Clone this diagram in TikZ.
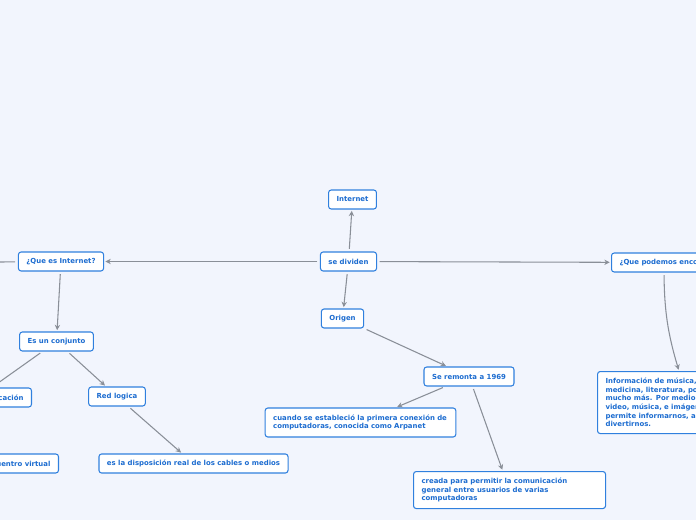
\documentclass[tikz,border=0pt]{standalone}
\usepackage{fontspec}
\setmainfont{DejaVu Sans}
\usetikzlibrary{arrows.meta, calc}
\definecolor{bgblue}{RGB}{242,245,253}
\definecolor{boxline}{RGB}{48,128,222}
\definecolor{boxtext}{RGB}{28,108,208}
\definecolor{linkgray}{RGB}{138,143,152}

\begin{document}
\begin{tikzpicture}[x=0.75pt, y=-0.75pt, >={Stealth[length=4pt,width=4pt]},
    topic/.style={draw=boxline, line width=0.8pt, rounded corners=2pt, fill=white, text=boxtext,
        font=\fontsize{5.2}{6.5}\selectfont\bfseries, minimum height=14.25pt, inner xsep=6pt, inner ysep=2.5pt, align=left},
    link/.style={draw=linkgray, line width=0.8pt, ->, shorten <=2pt, shorten >=1pt}]
    \useasboundingbox (0,0) rectangle (696,520);
    \fill[bgblue] (0,0) rectangle (696,520);
    \clip (0,0) rectangle (696,520);
    \node[topic] (inet) at (352.5,199.5) {Internet};
    \node[topic] (div) at (348.5,261.5) {se dividen};
    \node[topic] (orig) at (342.5,318.5) {Origen};
    \node[topic] (que) at (61,261.5) {¿Que es Internet?};
    \node[topic] (conj) at (56.5,341.5) {Es un conjunto};
    \node[topic, anchor=east] (com) at (32,397.5) {Medio de comunicación};
    \node[topic, anchor=east] (virt) at (59,463.5) {Punto de encuentro virtual};
    \node[topic] (red) at (117,396.5) {Red logica};
    \node[topic] (disp) at (193.5,463.5) {es la disposición real de los cables o medios};
    \node[topic] (remo) at (469,376.5) {Se remonta a 1969};
    \node[topic, text width=131pt, minimum height=21.75pt] (arpa) at (360.5,422.5) {cuando se estableció la primera conexión de\\computadoras, conocida como Arpanet};
    \node[topic, anchor=north west, text width=132pt, minimum height=27.75pt] (crea) at (413,471) {creada para permitir la comunicación\\general entre usuarios de varias\\computadoras};
    \node[topic, anchor=west] (qp) at (611,262.5) {¿Que podemos encontrar?};
    \node[topic, anchor=north west, text width=120pt, minimum height=46.5pt] (info) at (597,371) {Información de música, arte,\\medicina, literatura, política y\\mucho más. Por medio de\\video, música, e imágenes nos\\permite informarnos, aprender y\\divertirnos.};
    \coordinate (prev) at (-60,262.5);
    % conexiones
    \draw[link] (div) -- (inet);
    \draw[link] (div) -- (que);
    \draw[link] (div) -- (qp);
    \draw[link] (div) -- (orig);
    \draw[link] (que) -- (prev);
    \draw[link] (que) -- (conj);
    \draw[link] (conj) -- (com);
    \draw[link] (conj) -- (red);
    \draw[link] (red) -- (disp);
    \draw[link] (orig) -- (remo);
    \draw[link] (remo) -- (arpa);
    \draw[link] (remo) -- (crea);
    \draw[link] ($(qp.south west)+(53,0)$) to[bend right=8] ($(info.north west)+(82,0)$);
\end{tikzpicture}
\end{document}
